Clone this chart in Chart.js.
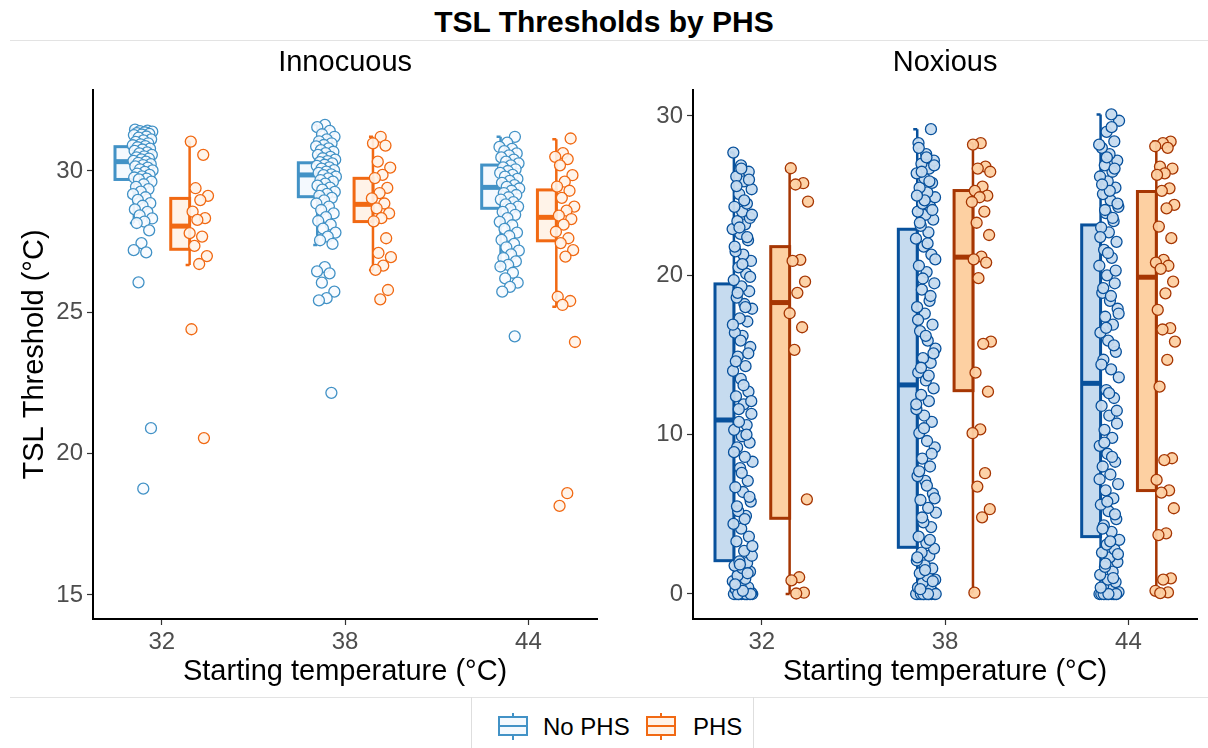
<!DOCTYPE html>
<html><head><meta charset="utf-8">
<script src="https://cdn.jsdelivr.net/npm/chart.js@4.4.1/dist/chart.umd.min.js"></script>
<style>
html,body{margin:0;padding:0;background:#fff;width:1208px;height:748px;overflow:hidden;font-family:"Liberation Sans",Arial,sans-serif;}
#title{position:absolute;left:0;top:6px;width:1208px;text-align:center;font-weight:bold;font-size:30px;line-height:32px;color:#000;}
.hline{position:absolute;height:1px;background:#e3e3e3;}
#leftWrap{position:absolute;left:0;top:45px;width:604px;height:650px;}
#rightWrap{position:absolute;left:600px;top:45px;width:604px;height:650px;}
#legend{position:absolute;left:471px;top:697px;width:281px;height:51px;border-left:1px solid #dedede;border-right:1px solid #dedede;}
.lg-icon{position:absolute;top:15px;}
.lg-text{position:absolute;top:17px;font-size:24px;line-height:26px;color:#000;white-space:nowrap;}
</style></head>
<body>
<div id="title">TSL Thresholds by PHS</div>
<div class="hline" style="left:10px;top:40px;width:1198px;"></div>
<div class="hline" style="left:10px;top:697px;width:1198px;"></div>
<div id="leftWrap"><canvas id="cLeft" width="604" height="650"></canvas></div>
<div id="rightWrap"><canvas id="cRight" width="604" height="650"></canvas></div>
<div id="legend">
  <svg class="lg-icon" style="left:25px" width="32" height="30" viewBox="0 0 32 30">
    <line x1="16" y1="1" x2="16" y2="5" stroke="#4292c6" stroke-width="2"/>
    <line x1="16" y1="23" x2="16" y2="28" stroke="#4292c6" stroke-width="2"/>
    <rect x="2" y="5" width="28" height="18" fill="#f4f9fe" stroke="#4292c6" stroke-width="2"/>
    <line x1="2" y1="14" x2="30" y2="14" stroke="#4292c6" stroke-width="2"/>
  </svg>
  <span class="lg-text" style="left:71px">No PHS</span>
  <svg class="lg-icon" style="left:173px" width="32" height="30" viewBox="0 0 32 30">
    <line x1="16" y1="1" x2="16" y2="5" stroke="#f16913" stroke-width="2"/>
    <line x1="16" y1="23" x2="16" y2="28" stroke="#f16913" stroke-width="2"/>
    <rect x="2" y="5" width="28" height="18" fill="#fff3e8" stroke="#f16913" stroke-width="2"/>
    <line x1="2" y1="14" x2="30" y2="14" stroke="#f16913" stroke-width="2"/>
  </svg>
  <span class="lg-text" style="left:221px">PHS</span>
</div>
<script>
// ---------- data ----------
const categories = ['32', '38', '44'];
const groupNames = ['No PHS', 'PHS'];
const innocuousTicks = [15, 20, 25, 30];
const noxiousTicks = [0, 10, 20, 30];

// Innocuous, No PHS points
const innNoPhs32 = [31.46,31.43,31.41,31.39,31.37,31.34,31.31,31.29,31.27,31.22,31.18,31.12,31.08,31.03,30.98,30.94,30.91,30.88,30.84,30.79,30.76,30.71,30.66,30.62,30.57,30.52,30.48,30.44,30.41,30.36,30.33,30.29,30.24,30.21,30.16,30.12,30.06,30.02,29.97,29.91,29.86,29.81,29.77,29.73,29.7,29.62,29.53,29.44,29.36,29.27,29.18,29.07,28.98,28.86,28.77,28.64,28.55,28.43,28.32,28.21,28.16,27.9,27.45,27.2,27.12,26.06,20.9,18.76];
const innNoPhs38 = [31.63,31.55,31.42,31.3,31.21,31.12,31.05,30.98,30.92,30.87,30.8,30.74,30.68,30.63,30.57,30.5,30.45,30.4,30.35,30.31,30.27,30.22,30.18,30.13,30.08,30.03,29.98,29.93,29.88,29.85,29.8,29.74,29.68,29.62,29.55,29.48,29.41,29.34,29.26,29.19,29.12,29.05,28.96,28.85,28.74,28.62,28.5,28.37,28.23,28.1,27.96,27.82,27.68,27.55,27.42,26.6,26.45,26.38,26.05,25.73,25.5,25.42,22.15];
const innNoPhs44 = [31.21,31.0,30.85,30.78,30.7,30.62,30.55,30.48,30.4,30.33,30.27,30.2,30.13,30.06,30.0,29.93,29.86,29.8,29.72,29.65,29.58,29.5,29.44,29.38,29.3,29.22,29.15,29.07,28.99,28.9,28.82,28.74,28.66,28.55,28.45,28.33,28.2,28.08,27.95,27.82,27.7,27.56,27.42,27.3,27.18,27.05,26.92,26.8,26.68,26.62,26.4,26.2,26.05,25.9,25.73,24.15];
// Innocuous, PHS points
const innPhs32 = [31.04,30.57,29.39,29.12,28.97,28.56,28.33,28.27,27.8,27.68,27.35,26.99,26.71,24.4,20.55];
const innPhs38 = [31.21,30.98,30.9,30.33,30.12,29.86,29.75,29.4,29.22,29.03,28.85,28.68,28.5,28.33,28.22,27.62,27.1,26.95,26.65,26.5,25.79,25.46];
const innPhs44 = [31.15,30.63,30.5,30.42,30.2,29.85,29.62,29.45,29.3,29.05,28.74,28.6,28.42,28.3,28.1,27.85,27.62,27.45,27.2,26.97,25.55,25.4,25.26,23.95,18.6,18.15];
// Noxious, No PHS points
const noxNoPhs32 = [0,0,0,0,0,0,0,0,0,0,0,0.08,0.15,0.3,0.42,0.55,0.8,0.95,1.15,1.4,1.62,1.78,1.95,2.05,2.4,2.7,3.3,3.6,4.1,4.4,4.9,5.2,5.8,6.4,6.7,7.1,7.9,8.3,8.6,9.2,9.5,9.9,10.3,10.6,10.8,11.3,11.9,12.4,12.7,13.5,14.0,14.3,14.9,15.5,16.2,16.4,17.1,17.3,17.9,18.2,18.6,19.0,19.3,19.7,20.1,20.5,20.9,21.3,21.5,22.2,22.6,22.9,23.2,23.4,23.6,24.0,24.3,24.5,25.1,25.4,25.9,26.2,26.5,26.9,27.7,
  0,0,0,0.2,0.6,1.3,1.85,3.0,4.7,5.5,6.1,7.6,8.9,10.0,11.6,12.1,13.1,14.6,15.1,15.9,16.9,18.0,18.9,19.9,20.7,21.8,22.4,23.0,23.8,24.7,25.6,26.0,26.7];
const noxNoPhs38 = [0,0,0,0,0,0,0,0,0,0,0,0,0.1,0.25,0.4,0.5,0.7,0.9,1.1,1.3,1.6,1.8,2.1,2.4,2.6,2.85,3.2,3.6,4.2,4.5,5.1,5.4,5.9,6.3,7.1,7.4,8.0,8.5,9.2,9.6,10.1,10.8,11.2,11.6,12.1,12.5,12.9,13.4,13.9,14.5,14.8,15.4,15.9,16.5,16.9,17.6,18.0,18.4,19.1,19.5,20.2,20.6,21.3,21.8,22.3,22.7,23.1,23.5,23.8,24.0,24.3,24.5,24.9,25.2,25.5,25.8,26.1,26.4,26.7,27.0,27.2,27.6,28.3,29.17,
  0,0,0,0.3,0.8,1.5,2.3,3.4,4.8,6.0,6.8,7.7,8.8,10.4,11.9,13.7,14.2,15.1,16.2,17.2,18.7,19.8,21.0,22.0,23.3,24.1,24.7,25.0,25.9,26.5,26.9,27.4,28.0];
const noxNoPhs44 = [0,0,0,0,0,0,0,0,0,0,0.12,0.3,0.5,0.75,0.9,1.2,1.4,1.7,2.0,2.3,2.6,2.8,3.1,3.4,3.9,4.3,4.7,5.2,5.6,6.0,6.5,6.9,7.5,8.0,8.3,8.8,9.3,9.8,10.3,10.7,11.2,11.8,12.3,12.8,13.6,14.1,14.7,15.2,15.9,16.4,16.9,17.4,17.9,18.4,18.9,19.5,20.0,20.6,21.1,21.6,22.1,22.7,23.0,23.4,23.9,24.3,24.7,25.1,25.5,25.9,26.2,26.5,26.9,27.2,27.6,28.0,28.4,29.0,29.7,30.1,
  0,0,0,0.4,1.0,1.9,2.5,3.3,4.1,5.0,5.8,7.2,8.6,9.5,11.5,12.6,14.4,15.6,16.7,17.6,18.7,19.2,20.3,21.4,22.4,23.6,24.1,24.5,25.3,25.7,26.7,27.4,28.2,29.3];
// Noxious, PHS points
const noxPhs32 = [26.72,25.78,25.7,24.63,20.97,20.9,19.6,18.9,17.62,16.74,15.32,5.94,1.05,0.85,0.08,0.03];
const noxPhs38 = [28.29,28.2,26.82,26.7,26.5,25.57,25.3,25.0,24.9,24.6,24.0,23.3,22.53,21.17,21.0,20.8,19.82,15.84,15.7,13.89,12.7,10.33,10.09,7.58,6.74,5.32,4.81,0.08];
const noxPhs44 = [28.39,28.3,28.1,28.0,26.82,26.7,26.4,26.3,25.46,25.3,24.42,24.2,23.06,22.33,20.97,20.8,20.6,20.4,19.6,18.87,17.83,16.68,16.6,15.84,14.69,13.01,8.52,8.4,7.16,6.5,6.36,5.38,3.81,3.7,0.98,0.9,0.2,0.1,0.05];

// Box statistics: [lower whisker, Q1, median, Q3, upper whisker] for 32, 38, 44
const innNoPhsBox = [[28.16,29.70,30.33,30.86,31.50],[27.38,29.09,29.86,30.29,31.63],[26.61,28.68,29.42,30.21,31.21]];
const innPhsBox   = [[26.67,27.23,28.05,29.03,31.04],[26.50,28.21,28.82,29.74,31.21],[25.20,27.53,28.36,29.33,31.12]];
const noxNoPhsBox = [[0,2.09,10.92,19.46,27.70],[0,2.93,13.12,22.89,29.17],[0,3.60,13.22,23.16,30.10]];
const noxPhsBox   = [[0,4.75,18.29,21.80,26.60],[0.10,12.76,21.14,25.32,28.29],[0,6.49,19.88,25.26,28.40]];

// ---------- layout / style ----------
const FONT = '"Liberation Sans", Arial, sans-serif';
const dodge = [-0.152, 0.152];
const boxW = 0.103;
const jit = i => ((i * 0.61803398875 + 0.13) % 1);

function makePanel(canvasId, cfg) {
  const datasets = [0, 1].map(g => ({
    label: groupNames[g],
    data: cfg.points[g].flatMap((vals, c) => vals.map((v, i) => ({ x: c + dodge[g] - 0.008 + jit(i + c * 7) * 0.11, y: v }))),
    pointRadius: 5.5,
    pointHoverRadius: 5.5,
    pointBackgroundColor: cfg.pointFill[g],
    pointBorderColor: cfg.stroke[g],
    pointBorderWidth: 1.3,
    showLine: false
  }));
  const boxPlugin = {
    id: 'boxes' + canvasId,
    beforeDatasetsDraw(chart) {
      const ctx = chart.ctx, xs = chart.scales.x, ys = chart.scales.y;
      ctx.save();
      [0, 1].forEach(g => {
        cfg.boxes[g].forEach((s, c) => {
          const wx = xs.getPixelForValue(c + dodge[g]);
          const lx = xs.getPixelForValue(c + dodge[g] - boxW);
          const yLo = ys.getPixelForValue(s[0]), yQ1 = ys.getPixelForValue(s[1]),
                yMed = ys.getPixelForValue(s[2]), yQ3 = ys.getPixelForValue(s[3]),
                yHi = ys.getPixelForValue(s[4]);
          ctx.strokeStyle = cfg.stroke[g];
          ctx.lineWidth = 2.5;
          ctx.beginPath();
          ctx.moveTo(wx, yLo); ctx.lineTo(wx, yHi);
          ctx.moveTo(wx - 4, yLo); ctx.lineTo(wx, yLo);
          ctx.moveTo(wx - 4, yHi); ctx.lineTo(wx, yHi);
          ctx.stroke();
          ctx.fillStyle = cfg.boxFill[g];
          ctx.fillRect(lx, yQ3, wx - lx, yQ1 - yQ3);
          ctx.lineWidth = 3;
          ctx.strokeRect(lx, yQ3, wx - lx, yQ1 - yQ3);
          ctx.lineWidth = 5;
          ctx.beginPath();
          ctx.moveTo(lx, yMed); ctx.lineTo(wx, yMed);
          ctx.stroke();
        });
      });
      ctx.restore();
    }
  };
  const tickFont = { family: FONT, size: 24 };
  new Chart(document.getElementById(canvasId), {
    type: 'scatter',
    data: { datasets },
    options: {
      responsive: false,
      animation: false,
      events: [],
      layout: { padding: { left: 0, right: 5, top: 0, bottom: 0 } },
      plugins: {
        legend: { display: false },
        tooltip: { enabled: false },
        title: {
          display: true, text: cfg.title, fullSize: false, color: '#000',
          font: { family: FONT, size: 29, weight: 'normal', lineHeight: 1 },
          padding: { top: 3.5, bottom: 12.5 }
        }
      },
      scales: {
        x: {
          type: 'linear', min: -0.375, max: 2.375,
          afterBuildTicks: a => { a.ticks = categories.map((_, i) => ({ value: i })); },
          afterFit: a => { a.height = 76; },
          ticks: { callback: (v, i) => categories[i], color: '#4d4d4d', font: tickFont, padding: 3, autoSkip: false, maxRotation: 0 },
          grid: { display: true, drawOnChartArea: false, drawTicks: true, tickLength: 6, tickColor: '#333', tickWidth: 1.2 },
          border: { display: true, color: '#000', width: 2 },
          title: { display: true, text: 'Starting temperature (°C)', color: '#000', font: { family: FONT, size: 29, lineHeight: 1 }, padding: { top: 0, bottom: 8.5 } }
        },
        y: {
          type: 'linear', min: cfg.yMin, max: cfg.yMax,
          afterBuildTicks: a => { a.ticks = cfg.yTicks.map(v => ({ value: v })); },
          afterFit: a => { a.width = 93; },
          ticks: { color: '#4d4d4d', font: tickFont, padding: 4 },
          grid: { display: true, drawOnChartArea: false, drawTicks: true, tickLength: 6, tickColor: '#333', tickWidth: 1.2 },
          border: { display: true, color: '#000', width: 2 },
          title: { display: !!cfg.yTitle, text: cfg.yTitle || '', color: '#000', font: { family: FONT, size: 29, lineHeight: 1 }, padding: { top: 20, bottom: 0 } }
        }
      }
    },
    plugins: [boxPlugin]
  });
}

makePanel('cLeft', {
  title: 'Innocuous',
  yTitle: 'TSL Threshold (°C)',
  yMin: 14.15, yMax: 32.865, yTicks: innocuousTicks,
  points: [[innNoPhs32, innNoPhs38, innNoPhs44], [innPhs32, innPhs38, innPhs44]],
  boxes: [innNoPhsBox, innPhsBox],
  stroke: ['#4292c6', '#f16913'],
  boxFill: ['#f4f9fe', '#fff3e8'],
  pointFill: ['rgba(247,251,255,0.9)', 'rgba(255,243,232,0.9)']
});
makePanel('cRight', {
  title: 'Noxious',
  yTitle: null,
  yMin: -1.57, yMax: 31.63, yTicks: noxiousTicks,
  points: [[noxNoPhs32, noxNoPhs38, noxNoPhs44], [noxPhs32, noxPhs38, noxPhs44]],
  boxes: [noxNoPhsBox, noxPhsBox],
  stroke: ['#08519c', '#a63603'],
  boxFill: ['#c6dbef', '#fdd0a2'],
  pointFill: ['rgba(198,219,239,0.95)', 'rgba(253,208,162,0.95)']
});
</script>
</body></html>
